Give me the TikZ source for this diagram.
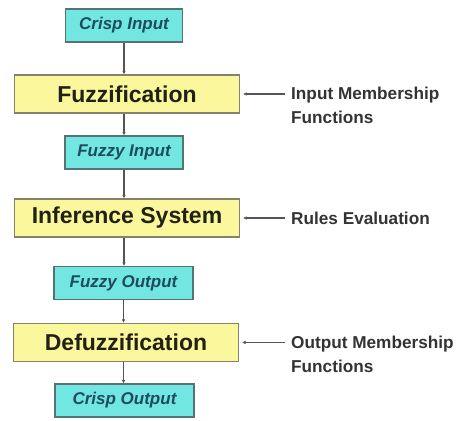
\documentclass[tikz,border=0pt]{standalone}
\usepackage{fontspec}
\setmainfont{Liberation Sans}
\usetikzlibrary{arrows.meta}
\definecolor{cyanbox}{HTML}{72E6E0}
\definecolor{crispline}{HTML}{557373}
\definecolor{tealtext}{HTML}{1D4C5E}
\definecolor{yellowbox}{HTML}{FBF79C}
\definecolor{stageline}{HTML}{85826E}
\definecolor{stagetext}{HTML}{222214}
\definecolor{notetext}{HTML}{333333}
\definecolor{arrowgray}{HTML}{555555}

\begin{document}
\begin{tikzpicture}[x=1pt,y=1pt,
    crisp/.style={draw=crispline,fill=cyanbox,line width=1.2pt,minimum height=33pt,inner sep=0pt,
      text=tealtext,font=\fontsize{17}{20}\selectfont\bfseries\itshape},
    stage/.style={draw=stageline,fill=yellowbox,line width=1.2pt,minimum width=225pt,minimum height=38pt,inner sep=0pt,
      text=stagetext,font=\fontsize{23}{27}\selectfont\bfseries},
    note/.style={inner sep=0pt,align=left,text=notetext,font=\fontsize{17.2}{24}\selectfont\bfseries},
    flow/.style={draw=arrowgray,line width=1.1pt,-{Latex[length=3.5pt,width=3.5pt]}}]
  \useasboundingbox (0,0) rectangle (456,421);
  % main chain
  \node[crisp,minimum width=117pt] (crispin) at (124,395.5) {Crisp Input};
  \node[stage] (fuzz) at (127,327) {Fuzzification};
  \node[crisp,minimum width=118pt] (fuzzyin) at (124,268.5) {Fuzzy Input};
  \node[stage] (infer) at (127,203) {Inference System};
  \node[crisp,minimum width=139pt] (fuzzyout) at (123.5,138) {Fuzzy Output};
  \node[stage] (defuzz) at (126,78.5) {Defuzzification};
  \node[crisp,minimum width=139pt] (crispout) at (124.5,20.5) {Crisp Output};
  \draw[flow] (crispin.south) -- (crispin.south |- fuzz.north);
  \draw[flow] (crispin.south |- fuzz.south) -- (crispin.south |- fuzzyin.north);
  \draw[flow] (fuzzyin.south) -- (fuzzyin.south |- infer.north);
  \draw[flow] (fuzzyin.south |- infer.south) -- (fuzzyin.south |- fuzzyout.north);
  \draw[flow] (fuzzyout.south) -- (fuzzyout.south |- defuzz.north);
  \draw[flow] (fuzzyout.south |- defuzz.south) -- (fuzzyout.south |- crispout.north);
  % side inputs
  \coordinate (fuzzsrc) at (285,327);
  \coordinate (infersrc) at (285,203);
  \coordinate (defuzzsrc) at (285,78.5);
  \draw[flow,shorten >=3pt] (fuzzsrc) -- (fuzz.east);
  \draw[flow,shorten >=3pt] (infersrc) -- (infer.east);
  \draw[flow,shorten >=3pt] (defuzzsrc) -- (defuzz.east);
  \node[note,anchor=north west] (inmf) at (291,334.5) {Input Membership\\Functions};
  \node[note,anchor=west] (rules) at (291,203) {Rules Evaluation};
  \node[note,anchor=north west] (outmf) at (291,85.5) {Output Membership\\Functions};
\end{tikzpicture}
\end{document}
